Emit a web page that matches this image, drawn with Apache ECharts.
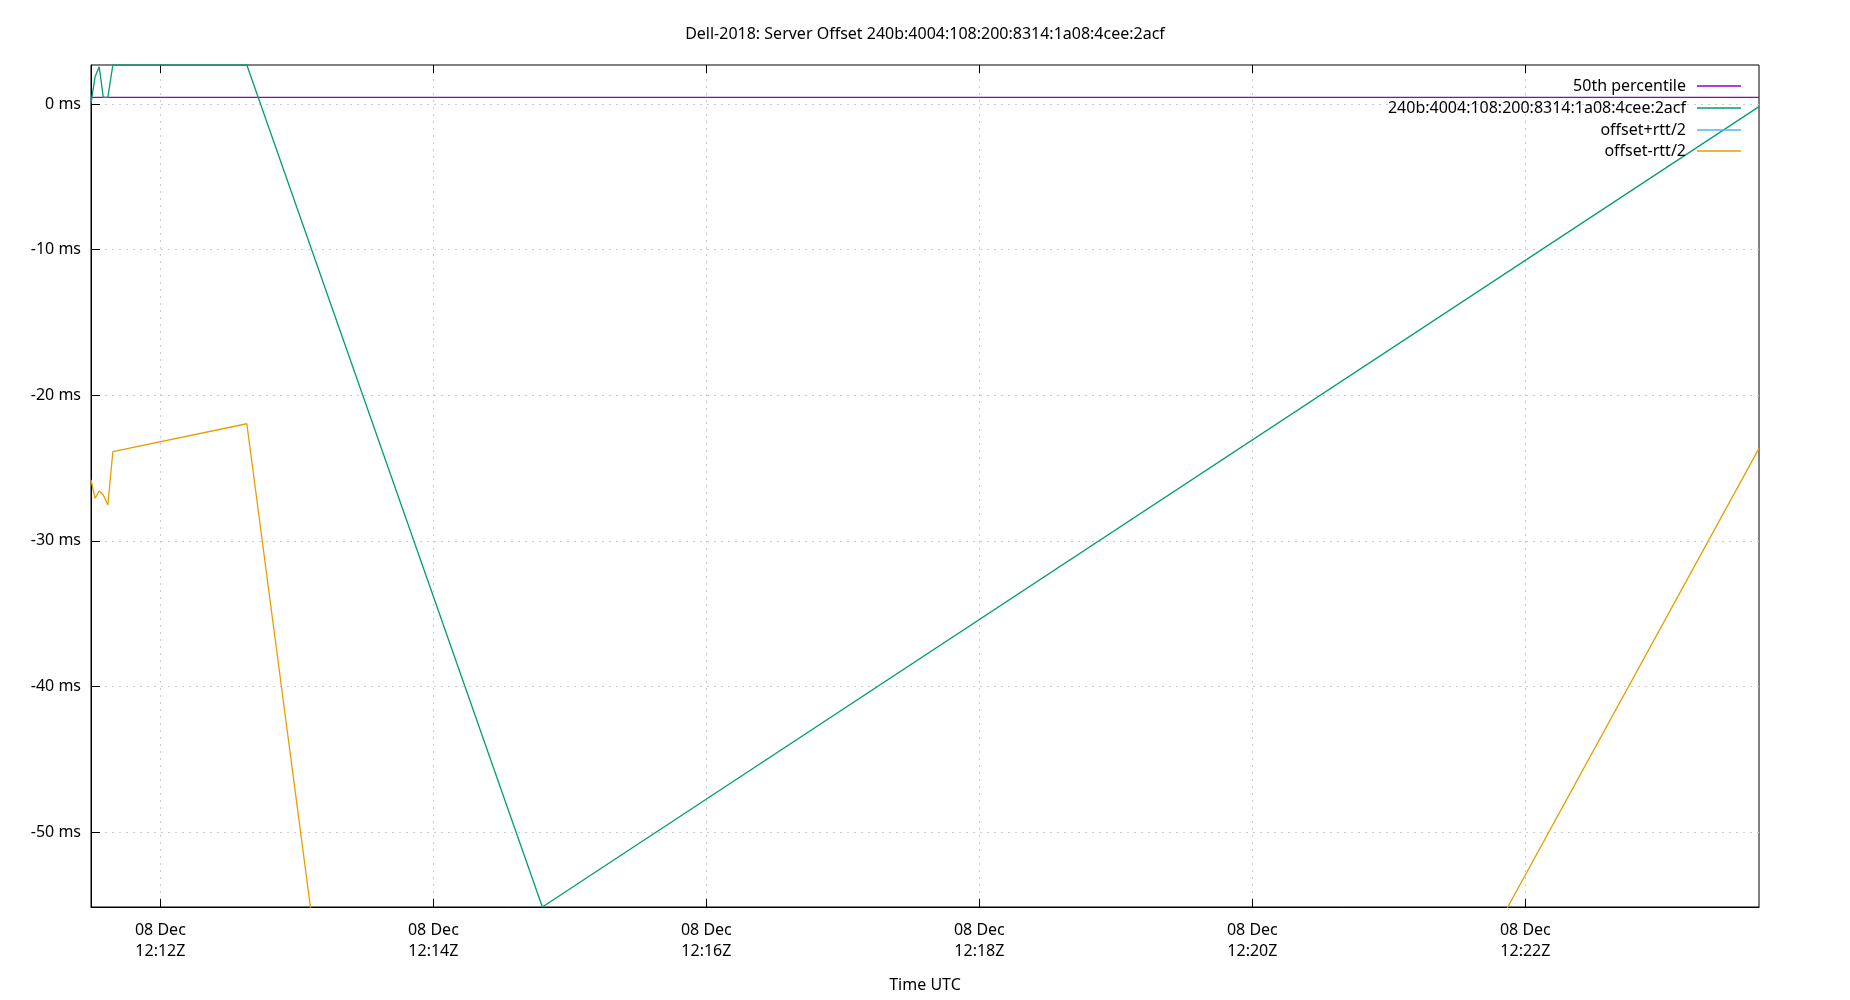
<!DOCTYPE html>
<html>
<head>
<meta charset="utf-8">
<script src="https://cdn.jsdelivr.net/npm/echarts@6/dist/echarts.min.js"></script>
<style>
html,body{margin:0;padding:0;background:#fff;}
#chart{width:1850px;height:1000px;}
</style>
</head>
<body>
<div id="chart"></div>
<script>
// ---- data ----
const sampleTimes = [
  "2023-12-08T12:11:29.500Z",
  "2023-12-08T12:11:31.300Z",
  "2023-12-08T12:11:33.100Z",
  "2023-12-08T12:11:34.900Z",
  "2023-12-08T12:11:36.900Z",
  "2023-12-08T12:11:39.100Z",
  "2023-12-08T12:12:38.000Z",
  "2023-12-08T12:14:47.900Z",
  "2023-12-08T12:23:42.700Z"
];
const offsetMs      = [0.05, 1.88, 2.56, 0.46, 0.46, 2.68, 2.68, -55.15, -0.18];
const offsetPlusRtt = [25.92, 30.84, 31.70, 27.77, 28.46, 29.24, 27.32, 65.90, 23.29];
const offsetMinusRtt= [-25.82, -27.08, -26.58, -26.85, -27.54, -23.88, -21.96, -176.2, -23.65];
const medianMs = 0.45;
const yTickValues = [-50, -40, -30, -20, -10, 0];
const xTickTimes = [
  "2023-12-08T12:12:00Z","2023-12-08T12:14:00Z","2023-12-08T12:16:00Z",
  "2023-12-08T12:18:00Z","2023-12-08T12:20:00Z","2023-12-08T12:22:00Z"
];
const seriesNames = ["50th percentile", "240b:4004:108:200:8314:1a08:4cee:2acf", "offset+rtt/2", "offset-rtt/2"];
const titleText = "Dell-2018: Server Offset 240b:4004:108:200:8314:1a08:4cee:2acf";

// ---- build ----
const tNum = sampleTimes.map(s => Date.parse(s));
const xTicks = xTickTimes.map(s => Date.parse(s));
const xMin = tNum[0], xMax = tNum[tNum.length - 1];
const yMin = -55.15, yMax = 2.68;
const pair = arr => tNum.map((t, i) => [t, arr[i]]);
const colors = ['#9400d3', '#009e73', '#56b4e9', '#e69f00'];
const FONT = 'Noto Sans';
const FS = 16;
const pad2 = n => (n < 10 ? '0' : '') + n;
const MON = ['Jan','Feb','Mar','Apr','May','Jun','Jul','Aug','Sep','Oct','Nov','Dec'];
function fmtX(v) {
  const d = new Date(v);
  return pad2(d.getUTCDate()) + ' ' + MON[d.getUTCMonth()] + '\n' + pad2(d.getUTCHours()) + ':' + pad2(d.getUTCMinutes()) + 'Z';
}

const chart = echarts.init(document.getElementById('chart'), null, {renderer: 'canvas'});
const gridLine = {show: true, lineStyle: {color: '#cccccc', width: 1, type: [2, 5]}};
const legendTops = [73, 95, 117, 138];
const legends = seriesNames.map((n, i) => ({
  data: [n],
  right: 104,
  top: legendTops[i],
  orient: 'vertical',
  align: 'right',
  icon: 'rect',
  itemWidth: 44,
  itemHeight: 1.5,
  selectedMode: false,
  textStyle: {fontFamily: FONT, fontSize: FS, color: '#000', padding: [0, 6, 0, 0]}
}));

chart.setOption({
  animation: false,
  backgroundColor: '#fff',
  color: colors,
  title: {
    text: titleText,
    left: 'center',
    top: 21,
    textStyle: {fontFamily: FONT, fontSize: FS, fontWeight: 'normal', color: '#000'}
  },
  legend: legends,
  grid: {left: 91, right: 91, top: 65, bottom: 93, show: true, borderColor: '#000', borderWidth: 1, containLabel: false, outerBoundsMode: 'none'},
  xAxis: [{
    type: 'value',
    min: xMin, max: xMax,
    name: 'Time UTC',
    nameLocation: 'middle',
    nameGap: 70,
    nameTextStyle: {fontFamily: FONT, fontSize: FS, color: '#000'},
    axisLine: {show: true, onZero: false, lineStyle: {color: '#000', width: 1}},
    axisTick: {show: true, inside: true, length: 8, customValues: xTicks, lineStyle: {color: '#000'}},
    axisLabel: {show: true, customValues: xTicks, formatter: fmtX, margin: 13, fontFamily: FONT, fontSize: FS, color: '#000', lineHeight: 21},
    splitLine: gridLine
  }, {
    type: 'value',
    position: 'top',
    min: xMin, max: xMax,
    axisLine: {show: false, onZero: false},
    axisTick: {show: true, inside: true, length: 8, customValues: xTicks, lineStyle: {color: '#000'}},
    axisLabel: {show: false},
    splitLine: {show: false}
  }],
  yAxis: [{
    type: 'value',
    min: yMin, max: yMax,
    axisLine: {show: true, onZero: false, lineStyle: {color: '#000', width: 1}},
    axisTick: {show: true, inside: true, length: 9, customValues: yTickValues, lineStyle: {color: '#000'}},
    axisLabel: {show: true, customValues: yTickValues, formatter: v => Math.round(v) + ' ms', margin: 10, fontFamily: FONT, fontSize: FS, color: '#000'},
    splitLine: gridLine
  }],
  series: [
    {name: seriesNames[0], type: 'line', showSymbol: false, symbol: 'none', data: [[xMin, medianMs], [xMax, medianMs]], lineStyle: {width: 1.3, color: colors[0]}, itemStyle: {color: colors[0]}},
    {name: seriesNames[1], type: 'line', showSymbol: false, symbol: 'none', data: pair(offsetMs), lineStyle: {width: 1.3, color: colors[1]}, itemStyle: {color: colors[1]}},
    {name: seriesNames[2], type: 'line', showSymbol: false, symbol: 'none', data: pair(offsetPlusRtt), lineStyle: {width: 1.3, color: colors[2]}, itemStyle: {color: colors[2]}},
    {name: seriesNames[3], type: 'line', showSymbol: false, symbol: 'none', data: pair(offsetMinusRtt), lineStyle: {width: 1.3, color: colors[3]}, itemStyle: {color: colors[3]}}
  ]
});
</script>
</body>
</html>
